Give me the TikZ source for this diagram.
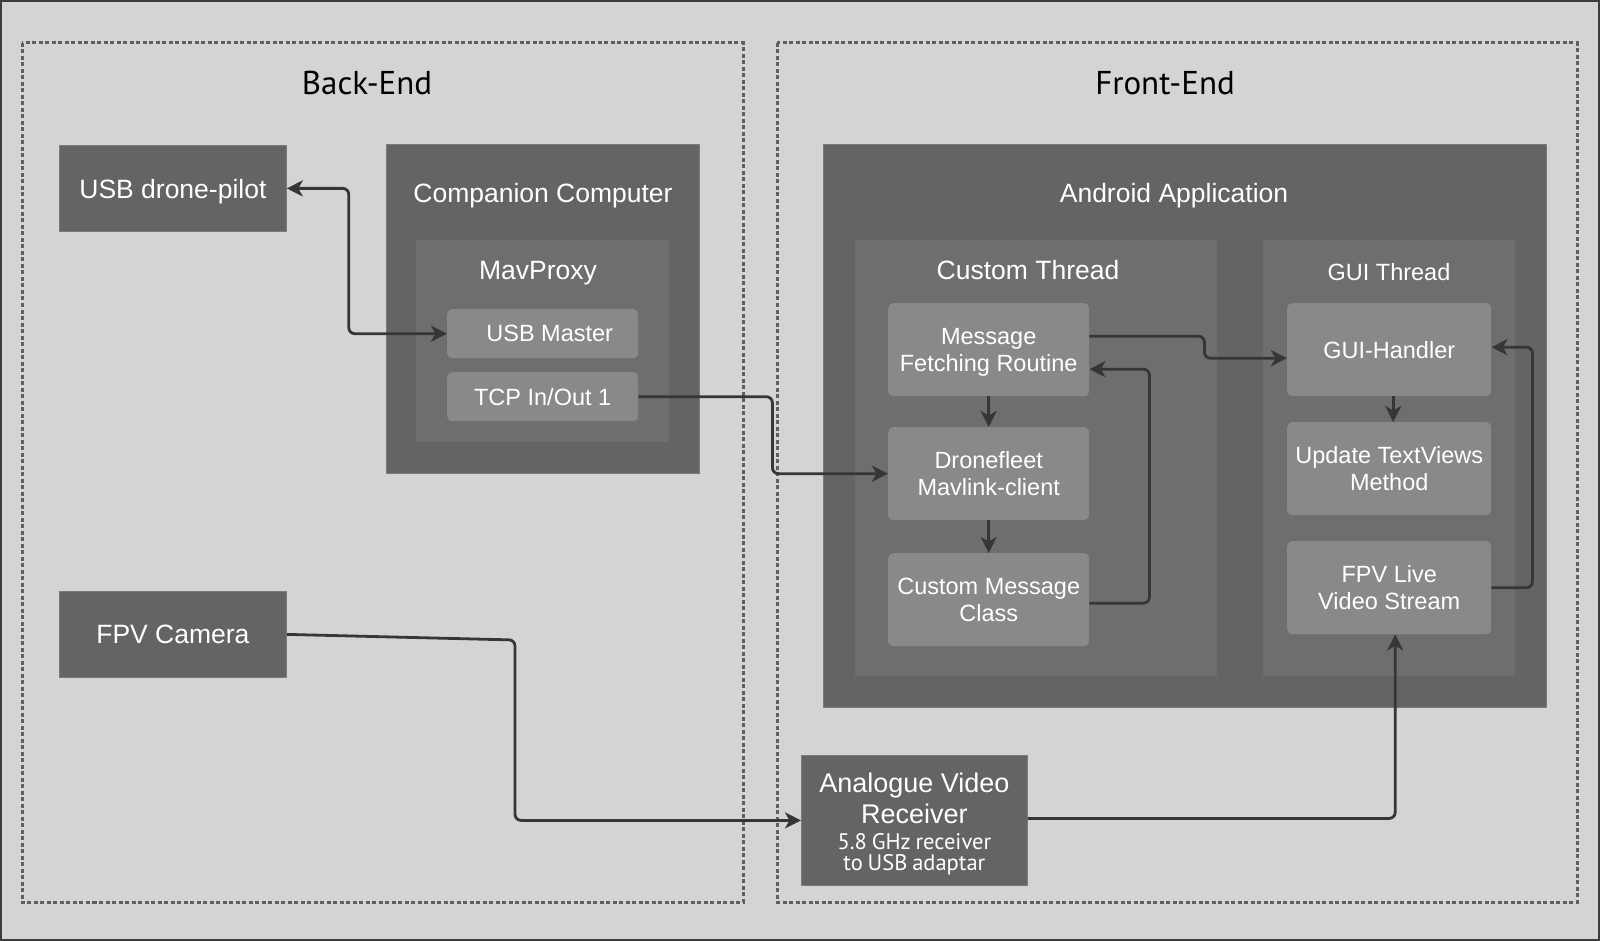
\documentclass[tikz,border=0pt]{standalone}
\usepackage{fontspec}
\setmainfont{Liberation Sans}
\newfontfamily\titlef{PT Sans}
\newfontfamily\subf[WordSpace=0.8]{PT Sans}
\usetikzlibrary{arrows.meta,calc}
\definecolor{bgc}{RGB}{212,212,212}
\definecolor{darkc}{RGB}{100,100,100}
\definecolor{midc}{RGB}{110,110,111}
\definecolor{lightc}{RGB}{137,137,137}
\definecolor{linec}{RGB}{54,54,54}
\definecolor{dashc}{RGB}{95,95,95}
\definecolor{framec}{RGB}{60,60,60}
\begin{document}
\begin{tikzpicture}[x=1pt,y=-1pt,
  darkbox/.style={fill=darkc, draw=darkc!85!white, line width=0.8pt, anchor=north west, inner sep=0pt, text=white, font=\fontsize{26.5}{31}\selectfont, align=center, text depth=0pt},
  midbox/.style={fill=midc, anchor=north west, inner sep=0pt},
  lightbox/.style={fill=lightc, rounded corners=5pt, anchor=north west, inner sep=0pt, text=white, font=\fontsize{23.5}{27}\selectfont, align=center, text depth=0pt},
  ttl/.style={text=white, font=\fontsize{26.5}{31}\selectfont, inner sep=0pt, text depth=0pt},
  sttl/.style={text=white, font=\fontsize{23.5}{27}\selectfont, inner sep=0pt, text depth=0pt},
  zone/.style={draw=dashc, line width=3pt, dash pattern=on 4pt off 2.5pt},
  zonettl/.style={text=black, font=\titlef\fontsize{33}{38}\selectfont, inner sep=0pt, text depth=0pt},
  tip/.tip={Stealth[length=16pt,width=16pt,inset=4.5pt]},
  arr/.style={draw=linec, line width=2.8pt, rounded corners=6pt, -tip},
  darr/.style={draw=linec, line width=2.8pt, rounded corners=6pt, tip-tip}
]
\useasboundingbox (0,0) rectangle (1600,941);
\fill[bgc] (0,0) rectangle (1600,941);
\draw[framec, line width=2pt] (1,1) rectangle (1599,940);

% zones
\draw[zone] (22,43) rectangle (743,902);
\draw[zone] (777,43) rectangle (1577,902);
\node[zonettl] (be) at (367,83) {Back-End};
\node[zonettl] (fe) at (1165,83) {Front-End};

% back-end
\node[darkbox, minimum width=227pt, minimum height=86pt] (usb) at (59,145) {USB drone-pilot};
\node[darkbox, minimum width=313pt, minimum height=329pt] (comp) at (386,144) {};
\node[ttl] (comptitle) at (543,193) {Companion Computer};
\node[midbox, minimum width=253pt, minimum height=202pt] (mav) at (416,240) {};
\node[ttl] (mavtitle) at (538,270) {MavProxy};
\node[lightbox, minimum width=191pt, minimum height=49pt] (usbm) at (447,309) {\hspace*{14pt}USB Master};
\node[lightbox, minimum width=191pt, minimum height=49pt] (tcp) at (447,372) {TCP In/Out 1};
\node[darkbox, minimum width=227pt, minimum height=86pt] (cam) at (59,591) {FPV Camera};

% front-end
\node[darkbox, minimum width=723pt, minimum height=563pt] (android) at (823,144) {};
\node[ttl] (andtitle) at (1174,193) {Android Application};
\node[midbox, minimum width=362pt, minimum height=436pt] (ct) at (855,240) {};
\node[ttl] (cttitle) at (1028,270) {Custom Thread};
\node[midbox, minimum width=252pt, minimum height=436pt] (gt) at (1263,240) {};
\node[sttl] (gttitle) at (1389,272) {GUI Thread};
\node[lightbox, minimum width=201pt, minimum height=93pt] (mfr) at (888,303) {Message\\Fetching Routine};
\node[lightbox, minimum width=201pt, minimum height=93pt] (dfl) at (888,427) {Dronefleet\\Mavlink-client};
\node[lightbox, minimum width=201pt, minimum height=93pt] (cmc) at (888,553) {Custom Message\\Class};
\node[lightbox, minimum width=204pt, minimum height=93pt] (guih) at (1287,303) {GUI-Handler};
\node[lightbox, minimum width=204pt, minimum height=93pt] (utv) at (1287,422) {Update TextViews\\Method};
\node[lightbox, minimum width=204pt, minimum height=93pt] (fpvl) at (1287,541) {FPV Live\\Video Stream};
\node[darkbox, minimum width=226pt, minimum height=130pt, font=\fontsize{27}{31}\selectfont] (rcv) at (801,755)
  {\begin{tabular}[b]{@{}c@{}}Analogue Video\\Receiver\\[-5pt]{\subf\fontsize{22.5}{25}\selectfont 5.8 GHz receiver}\\[-10pt]{\subf\fontsize{22.5}{25}\selectfont to USB adaptar}\end{tabular}};

% connectors
\draw[darr] (usb.east) -- ++(62,0) |- (usbm.west);
\draw[arr] (tcp.east) -- ++(134,0) |- (dfl.west);
\draw[arr] (mfr.south) -- (dfl.north);
\draw[arr] (dfl.south) -- (cmc.north);
\draw[arr] ([yshift=13.5pt]mfr.east) -- ++(115,0) |- ([yshift=-8.5pt]guih.west);
\draw[arr] ([yshift=-3.5pt]cmc.east) -- ++(60,0) |- ([yshift=-19.5pt]mfr.east);
\draw[arr] ([xshift=4pt]guih.south) -- ([xshift=4pt]utv.north);
\draw[arr] (fpvl.east) -- ++(41,0) |- ([yshift=2.5pt]guih.east);
\coordinate (camturn) at (515,640);
\draw[arr] (cam.east) -- (camturn) |- (rcv.west);
\draw[arr] ([yshift=2pt]rcv.east) -| ([xshift=6pt]fpvl.south);
\end{tikzpicture}
\end{document}
